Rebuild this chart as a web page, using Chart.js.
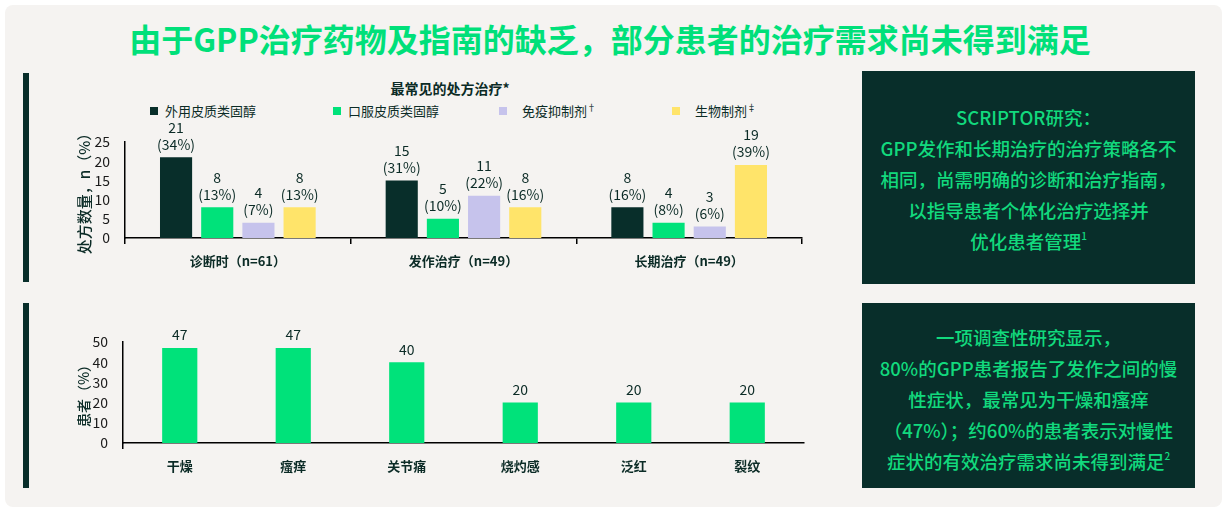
<!DOCTYPE html>
<html>
<head>
<meta charset="utf-8">
<script src="https://cdn.jsdelivr.net/npm/chart.js@4"></script>
<style>
  body { margin: 0; width: 1227px; height: 512px; background: #fff; font-family: "Noto Sans CJK SC", "Noto Sans", sans-serif; position: relative; overflow: hidden; }
  .panel { position: absolute; left: 5px; top: 5px; width: 1217px; height: 502px; background: #f5f3f1; border-radius: 8px; }
  .title { position: absolute; left: 0; top: 14px; width: 1220px; text-align: center; font-size: 32px; font-weight: 700; color: #00e07a; line-height: 48px; }
  .rule { position: absolute; left: 23px; width: 6px; background: #082e2a; }
  .box { position: absolute; left: 862px; width: 333px; background: #082e2a; color: #12d97d; font-size: 18.5px; font-weight: 500; line-height: 31px; text-align: center; box-sizing: border-box; white-space: nowrap; }
  .box sup { font-size: 10px; vertical-align: top; line-height: 20px; }
  .ctitle { position: absolute; left: 300px; width: 300px; top: 78px; text-align: center; font-size: 14px; font-weight: 700; color: #0b2b26; line-height: 20px; }
  .leg { position: absolute; top: 102px; font-size: 13px; color: #0b2b26; line-height: 18px; white-space: nowrap; }
  .leg i { display: inline-block; width: 8px; height: 8px; margin-right: 7px; vertical-align: 1px; }
  .leg sup { font-size: 9px; vertical-align: top; line-height: 12px; }
  .cv { position: absolute; left: 30px; width: 800px; height: 160px; }
</style>
</head>
<body>
<div class="panel"></div>
<div class="title">由于GPP治疗药物及指南的缺乏，部分患者的治疗需求尚未得到满足</div>
<div class="rule" style="top:73px;height:209px"></div>
<div class="rule" style="top:303px;height:185px"></div>

<div class="ctitle">最常见的处方治疗*</div>
<div id="legend"></div>

<div class="cv" style="top:115px"><canvas id="top"></canvas></div>
<div class="cv" style="top:320px"><canvas id="bottom"></canvas></div>

<div class="box" style="top:71px;height:213px;padding-top:31px">
  SCRIPTOR研究：<br>GPP发作和长期治疗的治疗策略各不<br>相同，尚需明确的诊断和治疗指南，<br>以指导患者个体化治疗选择并<br>优化患者管理<sup>1</sup>
</div>
<div class="box" style="top:303px;height:185px;padding-top:19px">
  一项调查性研究显示，<br>80%的GPP患者报告了发作之间的慢<br>性症状，最常见为干燥和瘙痒<br>（47%）；约60%的患者表示对慢性<br>症状的有效治疗需求尚未得到满足<sup>2</sup>
</div>

<script>
// top chart: prescriptions by treatment phase
const phases = ['诊断时（n=61）', '发作治疗（n=49）', '长期治疗（n=49）'];
const drugNames = ['外用皮质类固醇', '口服皮质类固醇', '免疫抑制剂', '生物制剂'];
const drugMarks = ['', '', '†', '‡'];
const drugColors = ['#082e2a', '#00e27a', '#c6c3ec', '#ffe46a'];
const topicalCounts = [21, 15, 8];
const oralCounts = [8, 5, 4];
const immunoCounts = [4, 11, 3];
const biologicCounts = [8, 8, 19];
const topicalPct = [34, 31, 16];
const oralPct = [13, 10, 8];
const immunoPct = [7, 22, 6];
const biologicPct = [13, 16, 39];

// bottom chart: chronic symptoms between flares
const symptoms = ['干燥', '瘙痒', '关节痛', '烧灼感', '泛红', '裂纹'];
const symptomPct = [47, 47, 40, 20, 20, 20];

const INK = '#0b2b26';
const FONT = '"Noto Sans CJK SC", "Noto Sans", sans-serif';

// legend laid out like the slide, wide spacing
const legendX = [150, 333, 499, 672];
const legendEl = document.getElementById('legend');
drugNames.forEach((name, i) => {
  const d = document.createElement('div');
  d.className = 'leg';
  d.style.left = legendX[i] + 'px';
  d.innerHTML = `<i style="background:${drugColors[i]}"></i>${name}${drugMarks[i] ? '<sup>' + drugMarks[i] + '</sup>' : ''}`;
  if (i >= 2) d.querySelector('i').style.marginRight = '15px';
  legendEl.appendChild(d);
});

const valueLabels = {
  id: 'valueLabels',
  afterDatasetsDraw(chart) {
    const ctx = chart.ctx;
    ctx.save();
    ctx.fillStyle = INK;
    ctx.font = '14px ' + FONT;
    ctx.textAlign = 'center';
    ctx.textBaseline = 'middle';
    chart.data.datasets.forEach((ds, di) => {
      chart.getDatasetMeta(di).data.forEach((bar, i) => {
        const lines = ds.pct ? [String(ds.data[i]), '(' + ds.pct[i] + '%)'] : [String(ds.data[i])];
        lines.reverse().forEach((t, k) => {
          ctx.fillText(t, bar.x, bar.y - 13 - k * 17);
        });
      });
    });
    ctx.restore();
  }
};

function yAxis(max, step, title, width, titleSize) {
  return {
    min: 0, max: max,
    afterFit(scale) { scale.width = width; },
    ticks: { stepSize: step, autoSkip: false, color: '#1a1a1a', padding: 7, font: { size: 14, family: FONT } },
    grid: { display: false },
    border: { display: true, color: '#000', width: 1.5 },
    title: { display: true, text: title, color: INK, font: { size: titleSize, weight: '500', family: FONT }, padding: 0 }
  };
}

function xAxis(allTicks) {
  return {
    afterFit(scale) { scale.height = 37; },
    ticks: { color: INK, padding: 9, font: { size: 13, weight: 'bold', family: FONT } },
    grid: {
      drawOnChartArea: false, tickLength: 6, lineWidth: 1.5,
      color: c => (allTicks || c.index === 0) ? '#000' : 'rgba(0,0,0,0)'
    },
    border: { display: true, color: '#000', width: 1.5 }
  };
}

const pctSets = [topicalPct, oralPct, immunoPct, biologicPct];
new Chart(document.getElementById('top'), {
  type: 'bar',
  data: {
    labels: phases,
    datasets: [topicalCounts, oralCounts, immunoCounts, biologicCounts].map((d, i) => ({
      label: drugNames[i], data: d, pct: pctSets[i], backgroundColor: drugColors[i],
      categoryPercentage: 0.73, barPercentage: 0.78
    }))
  },
  options: {
    responsive: true, maintainAspectRatio: false, animation: false,
    layout: { padding: { left: 45, top: 27, right: 28, bottom: 0 } },
    plugins: { legend: { display: false }, tooltip: { enabled: false } },
    scales: { x: xAxis(true), y: yAxis(25, 5, '处方数量，n（%）', 50, 15) }
  },
  plugins: [valueLabels]
});

new Chart(document.getElementById('bottom'), {
  type: 'bar',
  data: {
    labels: symptoms,
    datasets: [{ data: symptomPct, backgroundColor: '#00e27a', categoryPercentage: 1, barPercentage: 0.31 }]
  },
  options: {
    responsive: true, maintainAspectRatio: false, animation: false,
    layout: { padding: { left: 45, top: 22, right: 26, bottom: 0 } },
    plugins: { legend: { display: false }, tooltip: { enabled: false } },
    scales: { x: xAxis(false), y: yAxis(50, 10, '患者（%）', 48, 14) }
  },
  plugins: [valueLabels]
});
</script>
</body>
</html>
